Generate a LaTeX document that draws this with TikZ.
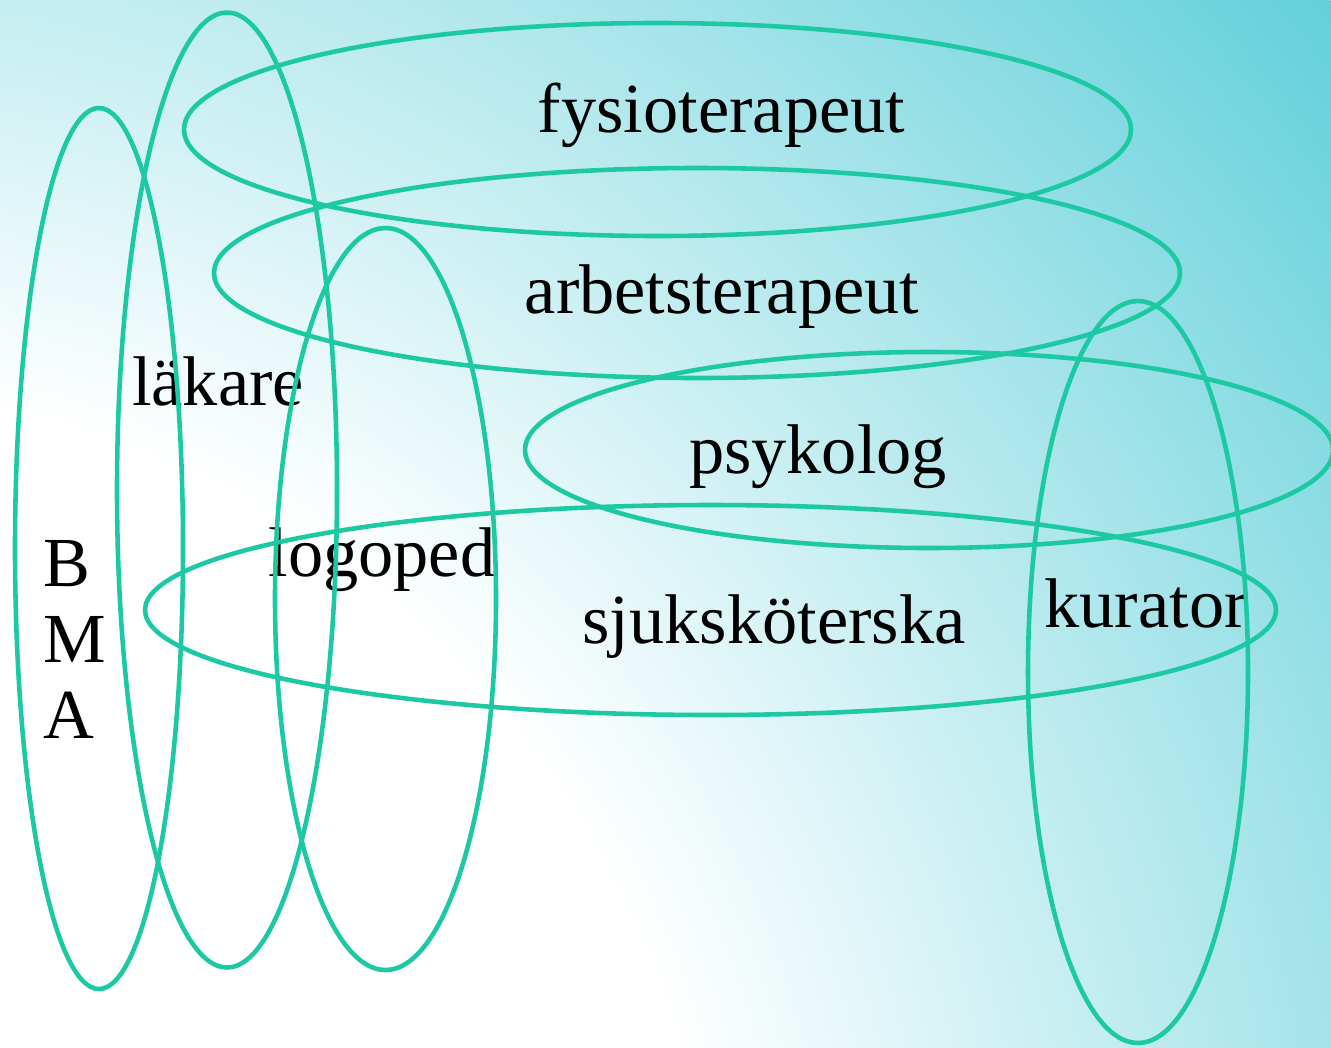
\documentclass[tikz,border=0pt]{standalone}
\usepackage{fontspec}
\setmainfont{Liberation Serif}
\definecolor{ring}{RGB}{29,201,163}
\definecolor{tealend}{RGB}{98,208,218}
\pgfdeclareradialshading{bgshade}{\pgfpointorigin}{color(0bp)=(white); color(11.33bp)=(white); color(25bp)=(tealend); color(50bp)=(tealend)}
\tikzset{
  lbl/.style={inner sep=0pt, outer sep=0pt, text=black, font=\fontsize{20}{21.7}\selectfont},
  ring/.style={draw=ring, line width=1.3pt}
}
\begin{document}
\begin{tikzpicture}[x=0.01cm, y=0.01cm]
\useasboundingbox (0,0) rectangle (1331,1047);
\begin{scope}
  \clip (0,0) rectangle (1331,1047);
  \shade[shading=bgshade] (-200,-253) circle (2008);
\end{scope}
% labels
\node[lbl, anchor=base] (fys) at (721.5,915) {fysioterapeut};
\node[lbl, anchor=base] (arb) at (722,734) {arbetsterapeut};
\node[lbl, anchor=base] (lak) at (218,642) {läkare};
\node[lbl, anchor=base] (psy) at (818,574) {psykolog};
\node[lbl, anchor=base] (log) at (382,471) {logoped};
\node[lbl, anchor=base] (sjs) at (774,404) {sjuksköterska};
\node[lbl, anchor=base] (kur) at (1146,420) {kurator};
\node[lbl, anchor=north west, align=left] (bma) at (44,507) {B\\M\\A};
% ellipses
\draw[ring] (99,498.5) ellipse [x radius=84, y radius=440.5];
\draw[ring] (227,557) ellipse [x radius=110, y radius=477.5];
\draw[ring] (385.5,448) ellipse [x radius=110.5, y radius=371];
\draw[ring] (657.5,917.5) ellipse [x radius=473.5, y radius=106.5];
\draw[ring] (697,774) ellipse [x radius=483, y radius=105];
\draw[ring] (929,597) ellipse [x radius=404, y radius=98];
\draw[ring] (710.5,437) ellipse [x radius=565.5, y radius=105];
\draw[ring] (1138,375) ellipse [x radius=110, y radius=371];
\end{tikzpicture}
\end{document}
